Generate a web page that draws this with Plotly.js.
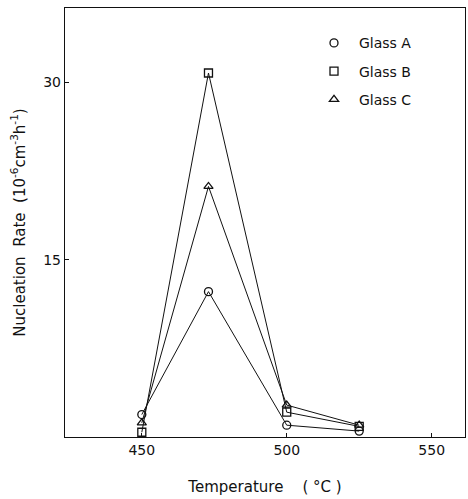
<!DOCTYPE html>
<html>
<head>
<meta charset="utf-8">
<script src="https://cdn.plot.ly/plotly-3.0.1.min.js"></script>
<style>html,body{margin:0;padding:0;background:#fff;}#chart{width:468px;height:499px;}</style>
</head>
<body>
<div id="chart"></div>
<script>
var temperature = [450, 473, 500, 525];
var glassA = [1.9, 12.3, 1.0, 0.5];
var glassB = [0.4, 30.8, 2.1, 0.9];
var glassC = [1.2, 21.2, 2.7, 1.0];
var seriesNames = ['Glass A', 'Glass B', 'Glass C'];
var xTicks = [450, 500, 550];
var yTicks = [15, 30];

var seriesData = [glassA, glassB, glassC];
var symbols = ['circle-open', 'square-open', 'triangle-up-open'];
var traces = [];
seriesData.forEach(function (ys, i) {
  traces.push({
    x: temperature, y: ys, mode: 'lines', type: 'scatter',
    line: {color: '#111', width: 1}, showlegend: false, hoverinfo: 'skip'
  });
});
seriesData.forEach(function (ys, i) {
  traces.push({
    x: temperature, y: ys, mode: 'markers', type: 'scatter', name: seriesNames[i],
    legendgroup: 'g' + i,
    marker: {symbol: symbols[i], size: 8, color: '#111', line: {width: 1.3, color: '#111'}}
  });
});

var layout = {
  width: 468, height: 499,
  margin: {l: 65, r: 3, t: 8, b: 62},
  paper_bgcolor: '#fff', plot_bgcolor: '#fff',
  font: {family: 'DejaVu Sans, sans-serif', color: '#111', size: 14},
  showlegend: true,
  legend: {x: 0.61, y: 0.955, xanchor: 'left', yanchor: 'top', bgcolor: 'rgba(0,0,0,0)',
    font: {size: 14, color: '#111'}, tracegroupgap: 7, itemwidth: 40},
  xaxis: {
    range: [423.5, 561.5], tickvals: xTicks, ticktext: xTicks.map(String),
    ticks: 'inside', ticklen: 4, tickcolor: '#111',
    showline: true, linecolor: '#111', linewidth: 1.2, mirror: true,
    showgrid: false, zeroline: false,
    tickfont: {size: 14},
    title: {text: 'Temperature    ( °C )', font: {size: 15}, standoff: 24}
  },
  yaxis: {
    range: [0, 36.3], tickvals: yTicks, ticktext: yTicks.map(String),
    ticks: 'inside', ticklen: 4, tickcolor: '#111',
    showline: true, linecolor: '#111', linewidth: 1.2, mirror: true,
    showgrid: false, zeroline: false,
    tickfont: {size: 14},
    title: {text: 'Nucleation  Rate  (10<sup>-6</sup>cm<sup>-3</sup>h<sup>-1</sup>)', font: {size: 15}, standoff: 14}
  }
};
Plotly.newPlot('chart', traces, layout, {displayModeBar: false, staticPlot: true});
</script>
</body>
</html>
